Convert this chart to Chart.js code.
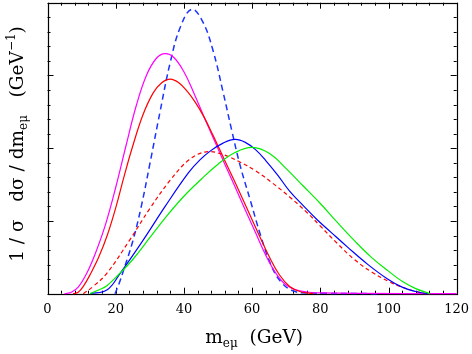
<!DOCTYPE html>
<html>
<head>
<meta charset="utf-8">
<script src="https://cdn.jsdelivr.net/npm/chart.js@4/dist/chart.umd.min.js"></script>
<style>
  html, body { margin: 0; padding: 0; background: #fff; }
  #c { display: block; }
</style>
</head>
<body>
<canvas id="c" width="472" height="354"></canvas>
<script>
// ---- axis settings ----
const X_MIN = 0, X_MAX = 120, X_MAJOR = 20, X_MINOR = 4;
const Y_MIN = 0, Y_MAX = 0.04, Y_MAJOR = 0.01, Y_MINOR = 0.002;
const xTickLabels = ['0', '20', '40', '60', '80', '100', '120'];

// ---- series ----
const magentaX = [5, 7, 9, 11.5, 14, 17, 20, 23, 26, 29, 32, 34.5, 37, 40, 43, 46, 49, 52, 55, 58, 61, 64, 67, 70, 74, 80, 120];
const magentaY = [0, 0.0002, 0.0009, 0.0028, 0.0055, 0.0095, 0.0146, 0.0203, 0.0258, 0.0300, 0.0324, 0.0330, 0.0325, 0.0305, 0.0275, 0.0242, 0.0210, 0.0178, 0.0147, 0.0115, 0.0084, 0.0053, 0.0028, 0.0012, 0.0004, 0.0001, 0];

const redX = [7.5, 9, 10.5, 12.7, 15, 17.5, 20, 22.5, 25, 28, 31, 33.5, 36, 38.5, 41, 43.5, 46, 48.5, 51, 53.5, 56, 59, 62, 65, 68, 71, 74, 78];
const redY = [0, 0.0002, 0.0010, 0.0028, 0.0050, 0.0080, 0.0118, 0.0162, 0.0203, 0.0246, 0.0276, 0.0290, 0.0295, 0.0290, 0.0278, 0.0262, 0.0242, 0.0218, 0.0193, 0.0168, 0.0143, 0.0112, 0.0081, 0.0051, 0.0026, 0.0010, 0.0003, 0];

const blueDashX = [19.8, 21, 22.5, 25, 27.5, 30, 33, 36, 39, 42.3, 45.5, 48.5, 51.5, 54, 56.5, 59.5, 62.5, 65.5, 68.5, 72, 76, 97];
const blueDashY = [0, 0.0014, 0.0035, 0.0072, 0.0120, 0.0178, 0.0250, 0.0318, 0.0367, 0.0391, 0.0374, 0.0335, 0.0277, 0.0225, 0.0176, 0.0128, 0.0080, 0.0040, 0.0016, 0.0004, 0.0001, 0];

const redDashX = [10.5, 13.4, 17.4, 24, 30, 36, 41.5, 46.5, 51, 56, 61, 66, 71, 76, 80, 85, 90, 95, 100, 104, 108, 111];
const redDashY = [0, 0.0010, 0.0028, 0.0073, 0.0117, 0.0156, 0.0184, 0.0195, 0.0192, 0.0182, 0.0169, 0.0152, 0.0133, 0.0112, 0.0093, 0.0069, 0.0047, 0.0030, 0.0017, 0.0009, 0.0003, 0];

const blueX = [12.5, 17.4, 21.3, 28.1, 34.5, 41.3, 44.7, 48, 51.5, 55, 58, 61, 64, 67.5, 71, 75, 79, 83, 88, 94, 99.5, 104, 108, 111.5];
const blueY = [0, 0.0005, 0.0028, 0.0074, 0.0120, 0.0166, 0.0184, 0.0197, 0.0207, 0.0212, 0.0208, 0.0198, 0.0183, 0.0163, 0.0141, 0.0121, 0.0102, 0.0085, 0.0064, 0.0040, 0.0021, 0.0009, 0.0003, 0];

const greenX = [12.5, 15, 17.4, 20.8, 25, 30, 35, 40, 45, 50, 55, 60, 65, 70, 75, 80, 85, 90, 95, 100, 104, 108, 112.2];
const greenY = [0, 0.0005, 0.0011, 0.0026, 0.0047, 0.0077, 0.0107, 0.0134, 0.0157, 0.0178, 0.0194, 0.0201, 0.0193, 0.0172, 0.0148, 0.0124, 0.0098, 0.0073, 0.0050, 0.0031, 0.0017, 0.0007, 0];

const pts = (xs, ys) => xs.map((v, i) => ({ x: v, y: ys[i] }));

const FONT = '"DejaVu Serif", "Liberation Serif", serif';

// draw text made of segments (sub/superscripts)
function drawSegments(ctx, segs, cx, cy, rotate) {
  ctx.save();
  ctx.translate(cx, cy);
  if (rotate) ctx.rotate(-Math.PI / 2);
  let total = 0;
  segs.forEach(s => { ctx.font = s.size + 'px ' + FONT; s.w = ctx.measureText(s.t).width; total += s.w; });
  let xpos = -total / 2;
  ctx.fillStyle = '#000';
  ctx.textBaseline = 'alphabetic';
  ctx.textAlign = 'left';
  segs.forEach(s => { ctx.font = s.size + 'px ' + FONT; ctx.fillText(s.t, xpos, s.dy); xpos += s.w; });
  ctx.restore();
}

const framePlugin = {
  id: 'framePlugin',
  beforeDatasetsDraw(chart) {
    const { ctx, chartArea: a, scales: { x, y } } = chart;
    ctx.save();
    ctx.strokeStyle = '#000';
    ctx.lineWidth = 1;
    ctx.beginPath();
    const nx = Math.round((X_MAX - X_MIN) / X_MINOR);
    for (let i = 0; i <= nx; i++) {
      const v = X_MIN + i * X_MINOR;
      const major = Math.abs(v / X_MAJOR - Math.round(v / X_MAJOR)) < 1e-6;
      const len = major ? 6 : 3;
      const px = Math.round(x.getPixelForValue(v)) + 0.5;
      ctx.moveTo(px, a.bottom); ctx.lineTo(px, a.bottom - len);
      ctx.moveTo(px, a.top); ctx.lineTo(px, a.top + len);
    }
    const ny = Math.round((Y_MAX - Y_MIN) / Y_MINOR);
    for (let i = 0; i <= ny; i++) {
      const v = Y_MIN + i * Y_MINOR;
      const major = Math.abs(v / Y_MAJOR - Math.round(v / Y_MAJOR)) < 1e-6;
      const len = major ? 6 : 3;
      const py = Math.round(y.getPixelForValue(v)) + 0.5;
      ctx.moveTo(a.left, py); ctx.lineTo(a.left + len, py);
      ctx.moveTo(a.right, py); ctx.lineTo(a.right - len, py);
    }
    ctx.stroke();
    ctx.lineWidth = 1.2;
    ctx.strokeRect(Math.round(a.left) + 0.5, Math.round(a.top) + 0.5,
                   Math.round(a.right - a.left), Math.round(a.bottom - a.top));
    // x tick labels
    ctx.fillStyle = '#000';
    ctx.font = '13px ' + FONT;
    ctx.textAlign = 'center';
    ctx.textBaseline = 'alphabetic';
    xTickLabels.forEach(t => {
      ctx.fillText(t, x.getPixelForValue(Number(t)), a.bottom + 19);
    });
    ctx.restore();
  },
  afterDraw(chart) {
    const { ctx, chartArea: a } = chart;
    drawSegments(ctx, [
      { t: 'm', size: 18.5, dy: 0 },
      { t: 'eμ', size: 12, dy: 4 },
      { t: '  (GeV)', size: 18.5, dy: 0 }
    ], (a.left + a.right) / 2 + 2, 343, false);
    drawSegments(ctx, [
      { t: '1 / σ   dσ / dm', size: 18.5, dy: 0 },
      { t: 'eμ', size: 12, dy: 4 },
      { t: '   (GeV', size: 18.5, dy: 0 },
      { t: '−1', size: 12, dy: -8 },
      { t: ')', size: 18.5, dy: 0 }
    ], 23, 144, true);
  }
};

const lineDs = (label, xs, ys, color, dash, width) => ({
  label, data: pts(xs, ys), borderColor: color, borderWidth: width,
  borderDash: dash, pointRadius: 0, fill: false, clip: false,
  tension: 0.4
});

new Chart(document.getElementById('c'), {
  type: 'line',
  data: {
    datasets: [
      lineDs('green', greenX, greenY, '#00ee00', [], 1.2),
      lineDs('blue', blueX, blueY, '#0000ff', [], 1.2),
      lineDs('red dashed', redDashX, redDashY, '#ff0000', [4, 3], 1.2),
      lineDs('red', redX, redY, '#ff0000', [], 1.2),
      lineDs('magenta', magentaX, magentaY, '#ff00ff', [], 1.2),
      lineDs('blue dashed', blueDashX, blueDashY, '#1a33ff', [6, 4], 1.5)
    ]
  },
  options: {
    responsive: false,
    devicePixelRatio: 1,
    animation: false,
    events: [],
    layout: { padding: { left: 47.5, right: 15.3, top: 2.7, bottom: 0 } },
    plugins: { legend: { display: false }, tooltip: { enabled: false }, title: { display: false } },
    scales: {
      x: {
        type: 'linear', min: X_MIN, max: X_MAX,
        afterFit(s) { s.height = 60.3; },
        ticks: { display: false },
        grid: { display: false },
        border: { display: false }
      },
      y: {
        type: 'linear', min: Y_MIN, max: Y_MAX,
        afterFit(s) { s.width = 0; },
        ticks: { display: false },
        grid: { display: false },
        border: { display: false }
      }
    }
  },
  plugins: [framePlugin]
});
</script>
</body>
</html>
